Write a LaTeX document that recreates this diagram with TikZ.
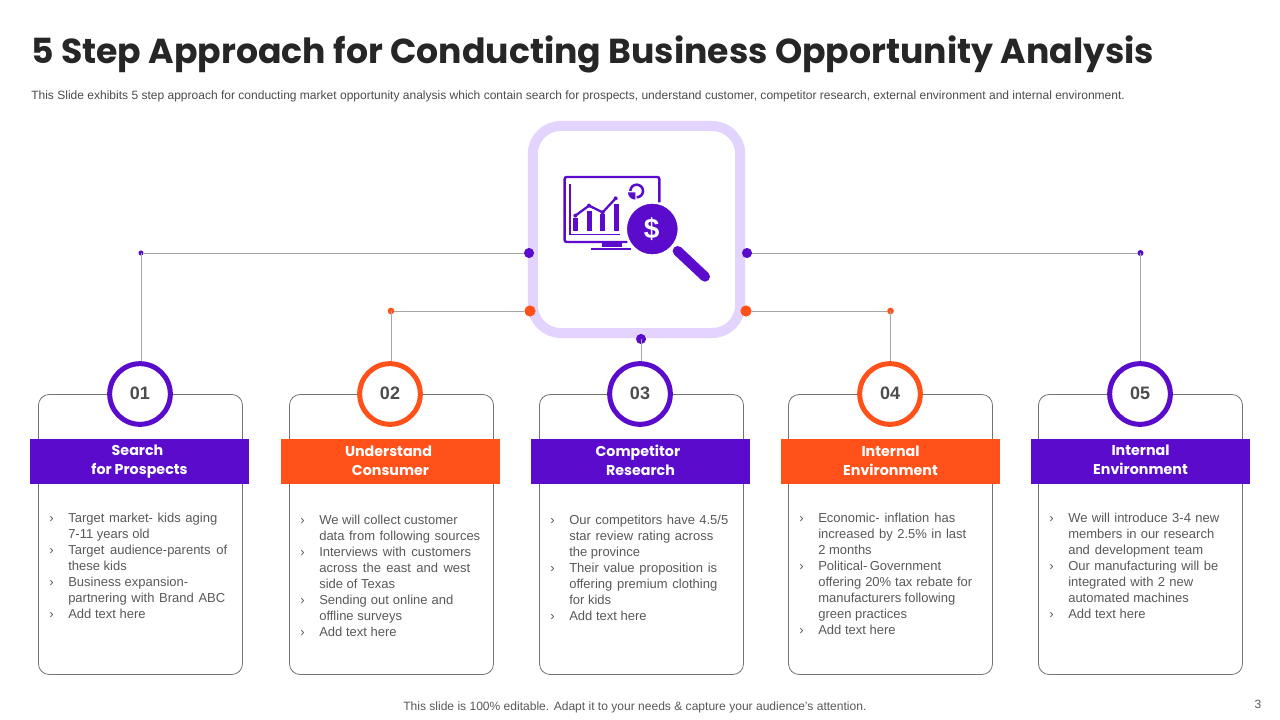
\documentclass[tikz,border=0pt]{standalone}
\usepackage{fontspec}
\setmainfont{Liberation Sans}
\newfontfamily\headfont{Poppins}
\definecolor{pur}{HTML}{5A0BCB}
\definecolor{org}{HTML}{FF5119}
\definecolor{lil}{HTML}{E3D3FF}
\definecolor{bodyc}{HTML}{595959}
\definecolor{linec}{HTML}{A6A6A6}
\newcommand{\js}[2]{\makebox[\dimexpr #1pt*3/4\relax][s]{#2}}
\newcommand{\bl}[1]{\makebox[14.25pt][l]{›}#1}
\newcommand{\cl}[1]{\hspace*{14.25pt}#1}
\hbadness=10000 \hfuzz=20pt
\tikzset{
 card/.style={draw=black!55,line width=.6pt,fill=white,rounded corners=8pt},
 bar/.style={minimum width=164.25pt,minimum height=33.75pt,inner sep=0,outer sep=0,text=white,align=center,font=\headfont\bfseries\fontsize{10.7}{14.2}\selectfont},
 ring/.style={circle,fill=white,line width=3.75pt,minimum size=45.5pt,inner sep=0,outer sep=1.8pt,text=black!70,font=\bfseries\fontsize{13.5}{14}\selectfont},
 dotbig/.style={circle,inner sep=0,outer sep=0,minimum size=7.6pt},
 dotsmall/.style={circle,inner sep=0,outer sep=0,minimum size=3.8pt},
 conn/.style={draw=linec,line width=.6pt},
 body/.style={anchor=north west,inner sep=0,align=left,text=bodyc,font=\fontsize{9.75}{12}\selectfont},
}
\begin{document}
\begin{tikzpicture}[x=0.75pt,y=-0.75pt]
\useasboundingbox (0,0) rectangle (1280,720);
\fill[white] (0,0) rectangle (1280,720);
\node[anchor=base west,inner sep=0,text=black!85,font=\headfont\bfseries\fontsize{26}{30}\selectfont] (title) at (31,64) {5 Step Approach for Conducting Business Opportunity Analysis};
\node[anchor=base west,inner sep=0,text=black!70,font=\fontsize{9.02}{11}\selectfont] (sub) at (31,99.5) {This Slide exhibits 5 step approach for conducting market opportunity analysis which contain search for prospects, understand customer, competitor research, external environment and internal environment.};
% cards
\draw[card] (38.5,394.5) rectangle (242.5,674.5);
\draw[card] (289.5,394.5) rectangle (493.5,674.5);
\draw[card] (539.5,394.5) rectangle (743.5,674.5);
\draw[card] (788.5,394.5) rectangle (992.5,674.5);
\draw[card] (1038.5,394.5) rectangle (1242.5,674.5);
% centre box
\node[draw=lil,fill=white,line width=7.5pt,rounded corners=21pt,minimum width=155.6pt,minimum height=155.25pt,inner sep=0,outer sep=0] (hub) at (636.5,229.5) {};
% icon
\begin{scope}[shift={(520,115)},x=0.25pt,y=-0.25pt]
 \draw[pur,line width=1.8pt,rounded corners=1.5pt] (322,381) -- (134,381) -- (134,186) -- (418,186) -- (418,262);
 \fill[pur] (245,384) rectangle (306,396);
 \fill[pur] (213,399) rectangle (334,406);
 \draw[pur,line width=1.1pt] (150,208) -- (150,358) -- (300,358);
 \fill[pur] (160,310) rectangle (175,348);
 \fill[pur] (200,288) rectangle (216,348);
 \fill[pur] (241,297) rectangle (256,348);
 \fill[pur] (282,268) rectangle (297,348);
 \draw[pur,line width=1.7pt,line join=round] (166,302) -- (207,272) -- (248,292) -- (287,250);
 \fill[pur] (166,302) circle (6) (207,272) circle (6) (248,292) circle (6) (287,250) circle (6);
 \draw[pur,line width=1.9pt] (350,228) ++(180:19) arc (180:450:19);
 \fill[pur] (346,232) -- (324,232) arc (180:90:22) -- cycle;
 \fill[pur,draw=white,line width=1pt] (397,342) circle (78);
 \draw[pur,line width=7.5pt,line cap=round] (473,408) -- (555,485);
 \node[text=white,inner sep=0,font=\bfseries\fontsize{21}{22}\selectfont] (dollar) at (395,342) {\$};
\end{scope}
% hub dots
\node[dotbig,fill=pur] (h1) at (529,253) {};
\node[dotbig,fill=org,minimum size=8.4pt] (h2) at (530,311) {};
\node[dotbig,fill=pur] (h3) at (641,339) {};
\node[dotbig,fill=org,minimum size=8.4pt] (h4) at (746,311) {};
\node[dotbig,fill=pur] (h5) at (747,253) {};
% elbow dots
\node[dotsmall,fill=pur] (e1) at (141,253) {};
\node[dotsmall,fill=org,minimum size=5pt] (e2) at (391,311) {};
\node[dotsmall,fill=org,minimum size=5pt] (e4) at (890.5,311) {};
\node[dotsmall,fill=pur,minimum size=4.5pt] (e5) at (1140.5,253) {};
% numbered rings
\node[ring,draw=pur] (c1) at (140,394) {\raisebox{.7pt}{01}};
\node[ring,draw=org] (c2) at (390,394) {\raisebox{.7pt}{02}};
\node[ring,draw=pur] (c3) at (640,394) {\raisebox{.7pt}{03}};
\node[ring,draw=org] (c4) at (890,394) {\raisebox{.7pt}{04}};
\node[ring,draw=pur] (c5) at (1140,394) {\raisebox{.7pt}{05}};
% connectors
\draw[conn] (h1) -- (e1);
\draw[conn] (e1.center) -- (e1.center |- c1.north);
\draw[conn] (h2) -- (e2);
\draw[conn] (e2.center) -- (e2.center |- c2.north);
\draw[conn] (h3.center) -- (h3.center |- c3.north);
\draw[conn] (h4) -- (e4);
\draw[conn] (e4.center) -- (e4.center |- c4.north);
\draw[conn] (h5) -- (e5);
\draw[conn] (e5.center) -- (e5.center |- c5.north);
% bars
\node[bar,fill=pur] (b1) at (139.5,461.5) {Search\hspace*{3pt}\\for Prospects};
\node[bar,fill=org,text depth=1.5pt] (b2) at (390.5,461.5) {Understand\hspace*{3pt}\\ Consumer};
\node[bar,fill=pur,text depth=1.5pt] (b3) at (640.5,461.5) {Competitor\hspace*{4pt}\\ Research};
\node[bar,fill=org,text depth=1.5pt] (b4) at (890.5,461.5) {Internal\\Environment};
\node[bar,fill=pur,text depth=3pt] (b5) at (1140.5,461.5) {Internal\\Environment};
% body text
\node[body] (t1) at (49,512.5) {\bl{\js{149}{Target market- kids aging}}\\\cl{7-11 years old}\\\bl{\js{159}{Target audience-parents of}}\\\cl{these kids}\\\bl{Business expansion-}\\\cl{\js{157}{partnering with Brand ABC}}\\\bl{Add text here}};
\node[body] (t2) at (300,514.5) {\bl{We will collect customer}\\\cl{\js{161}{data from following sources}}\\\bl{\js{152}{Interviews with customers}}\\\cl{\js{151}{across the east and west}}\\\cl{side of Texas}\\\bl{\js{134}{Sending out online and}}\\\cl{offline surveys}\\\bl{Add text here}};
\node[body] (t3) at (550,514.5) {\bl{\js{159}{Our competitors have 4.5/5}}\\\cl{\js{144}{star review rating across}}\\\cl{the province}\\\bl{\js{148}{Their value proposition is}}\\\cl{\js{148}{offering premium clothing}}\\\cl{for kids}\\\bl{Add text here}};
\node[body] (t4) at (799,513) {\bl{\js{137}{Economic- inflation has}}\\\cl{\js{148}{increased by 2.5\% in last}}\\\cl{2 months}\\\bl{\js{123}{Political- Government}}\\\cl{\js{154}{offering 20\% tax rebate for}}\\\cl{\js{137}{manufacturers following}}\\\cl{green practices}\\\bl{Add text here}};
\node[body] (t5) at (1049,513) {\bl{\js{151}{We will introduce 3-4 new}}\\\cl{\js{146}{members in our research}}\\\cl{\js{135}{and development team}}\\\bl{\js{150}{Our manufacturing will be}}\\\cl{\js{125}{integrated with 2 new}}\\\cl{automated machines}\\\bl{Add text here}};
% footer
\node[anchor=base west,inner sep=0,text=bodyc,font=\fontsize{9.04}{11}\selectfont] (foot) at (403,710.5) {This slide is 100\% editable. Adapt it to your needs \& capture your audience’s attention.};
\node[anchor=base,inner sep=0,text=bodyc,font=\fontsize{9}{11}\selectfont] (pg) at (1258,708) {3};
\end{tikzpicture}
\end{document}
